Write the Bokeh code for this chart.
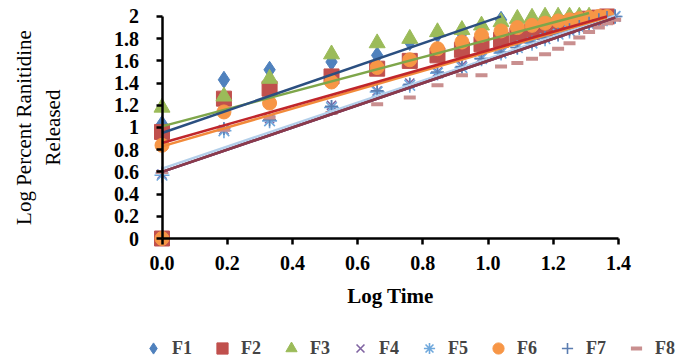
import math
from bokeh.plotting import figure
from bokeh.models import Range1d, FixedTicker, Legend, LegendItem
from bokeh.embed import file_html
from bokeh.resources import INLINE

nan = float("nan")

# apparent log-time positions (first entry = time-zero point)
log_time = [0, 0, 0.19, 0.33, 0.52, 0.66, 0.76, 0.845, 0.92, 0.98, 1.04, 1.09,
            1.135, 1.175, 1.215, 1.25, 1.28, 1.31, 1.34, 1.365, 1.39]

f1 = [nan, 1.03, 1.43, 1.52, 1.59, 1.65, 1.77, 1.84, 1.85, 1.91, 1.97]
f2 = [0, 0.96, 1.26, 1.35, 1.46, 1.53, 1.60, 1.65, 1.70, 1.75, 1.79, 1.83,
      1.86, 1.89, 1.92, 1.94, 1.96, 1.98, 1.99, 2.0]
f3 = [nan, 1.18, 1.28, 1.44, 1.66, 1.76, 1.80, 1.86, 1.88, 1.92, 1.95, 1.98,
      1.99, 2.0, 2.0, 2.0, 2.0, 2.0]
f4 = [nan, 0.58, 0.98, 1.08, 1.20, 1.33, 1.40, 1.50, 1.56, 1.63, 1.68, 1.73,
      1.77, 1.81, 1.85, 1.88, 1.91, 1.94, 1.96, 1.99, 2.0]
f5 = [nan, 0.57, 0.97, 1.06, 1.18, 1.32, 1.38, 1.49, 1.54, 1.62, 1.67, 1.72,
      1.76, 1.80, 1.84, 1.87, 1.90, 1.93, 1.96, 1.98, 2.0]
f6 = [0, 0.84, 1.14, 1.22, 1.41, 1.54, 1.61, 1.71, 1.77, 1.83, 1.87, 1.90,
      1.92, 1.94, 1.96, 1.97, 1.98, 1.99, 2.0, 2.0]
f7 = [nan, 0.59, 0.99, 1.07, 1.19, 1.33, 1.39, 1.50, 1.55, 1.62, 1.68, 1.72,
      1.77, 1.81, 1.84, 1.88, 1.91, 1.94, 1.97, 1.99, 2.0]
f8 = [nan, 0.60, 0.98, 1.09, 1.13, 1.21, 1.27, 1.38, 1.47, 1.47, 1.55, 1.58,
      1.62, 1.66, 1.71, 1.76, 1.81, 1.86, 1.90, 1.94, 1.97]

series_names = ["F1", "F2", "F3", "F4", "F5", "F6", "F7", "F8"]
series_values = [f1, f2, f3, f4, f5, f6, f7, f8]
markers = ["diamond", "square", "triangle", "x", "asterisk", "circle", "cross", "dash"]
marker_colors = ["#4F81BD", "#C0504D", "#9BBB59", "#8064A2", "#6FA8DC",
                 "#F79646", "#5B7DB1", "#C98F8F"]
marker_sizes = [17, 15, 16, 13, 15, 14, 13, 12]

# linear trendlines: y = intercept + slope * x
trend_intercept = [0.95, 0.86, 1.01, 0.60, 0.63, 0.83, 0.60, 0.60]
trend_slope = [1.01, 0.835, 0.78, 1.00, 0.99, 0.85, 1.00, 1.00]
trend_colors = ["#2B4F80", "#C0262B", "#7EA64A", "#7A4A7E", "#B3CFEA",
                "#F28A3A", "#7A4A7E", "#8B3A4A"]
trend_order = [4, 6, 3, 7, 5, 1, 2, 0]

x_ticks = [0, 0.2, 0.4, 0.6, 0.8, 1.0, 1.2, 1.4]
x_tick_labels = ["0.0", "0.2", "0.4", "0.6", "0.8", "1.0", "1.2", "1.4"]
y_ticks = [0, 0.2, 0.4, 0.6, 0.8, 1, 1.2, 1.4, 1.6, 1.8, 2]
y_tick_labels = ["0", "0.2", "0.4", "0.6", "0.8", "1", "1.2", "1.4", "1.6", "1.8", "2"]

FONT = "Liberation Serif"

# frame fills the whole canvas; axes are drawn through the origin
p = figure(width=694, height=362, output_backend="svg", toolbar_location=None,
           x_range=Range1d(-0.4954, 1.6334), y_range=Range1d(-1.117, 2.144),
           min_border=0, min_border_left=0, min_border_right=0,
           min_border_top=0, min_border_bottom=0)
p.grid.visible = False
p.outline_line_color = None

items = []
for i, name in enumerate(series_names):
    ys = series_values[i]
    xs = log_time[:len(ys)]
    kw = dict(marker=markers[i], size=marker_sizes[i], color=marker_colors[i])
    if markers[i] in ("x", "asterisk", "cross"):
        kw["line_width"] = 1.6
    if markers[i] == "dash":
        kw["line_width"] = 4
    r = p.scatter(xs, ys, **kw)
    items.append(LegendItem(label=name, renderers=[r]))

for i in trend_order:
    ys = series_values[i]
    xs = [x for x, y in zip(log_time, ys) if not math.isnan(y)]
    x0, x1 = min(xs), max(xs)
    p.line([x0, x1], [trend_intercept[i] + trend_slope[i] * x0,
                      trend_intercept[i] + trend_slope[i] * x1],
           line_color=trend_colors[i], line_width=2.5)

for ax in (p.xaxis[0], p.yaxis[0]):
    ax.fixed_location = 0
    ax.axis_line_width = 2.5
    ax.axis_line_color = "black"
    ax.major_tick_line_width = 2.5
    ax.major_tick_line_color = "black"
    ax.major_tick_in = 0
    ax.major_tick_out = 6
    ax.minor_tick_line_color = None
    ax.major_label_text_font = FONT
    ax.major_label_text_font_style = "bold"
    ax.major_label_text_font_size = "20px"
    ax.major_label_text_color = "black"
    ax.axis_label_text_font = FONT
    ax.axis_label_text_color = "black"

p.xaxis.ticker = FixedTicker(ticks=x_ticks)
p.xaxis.major_label_overrides = dict(zip(x_ticks, x_tick_labels))
p.xaxis.bounds = (x_ticks[0], x_ticks[-1])
p.xaxis.axis_label = "Log Time"
p.xaxis.axis_label_text_font_style = "bold"
p.xaxis.axis_label_text_font_size = "21px"
p.xaxis.major_label_standoff = 11
p.xaxis.axis_label_standoff = 11

p.yaxis.ticker = FixedTicker(ticks=y_ticks)
p.yaxis.major_label_overrides = dict(zip(y_ticks, y_tick_labels))
p.yaxis.bounds = (y_ticks[0], y_ticks[-1])
p.yaxis.axis_label = "Log Percent Ranitidine\nReleased"
p.yaxis.axis_label_text_font_style = "normal"
p.yaxis.axis_label_text_font_size = "21px"
p.yaxis.major_label_standoff = 17
p.yaxis.axis_label_standoff = 47

legend = Legend(items=items, orientation="horizontal", location=(139, 0),
                label_text_font=FONT, label_text_font_style="bold",
                label_text_font_size="18px", glyph_width=28, glyph_height=28,
                label_standoff=5, spacing=16, padding=0, margin=0,
                border_line_color=None, background_fill_alpha=0)
p.add_layout(legend, "center")

open("out.html", "w").write(file_html(p, INLINE))
